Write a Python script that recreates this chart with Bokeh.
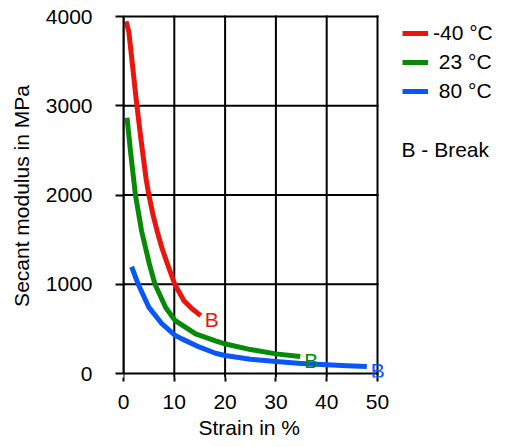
from bokeh.plotting import figure
from bokeh.models import Range1d, FixedTicker, Legend, LegendItem, Label, Title
from bokeh.embed import file_html
from bokeh.resources import INLINE

# ---- data ----
strain_m40 = [0.5, 1.05, 1.8, 2.5, 3.4, 4.45, 5.0, 5.8, 6.6, 7.6, 8.6, 10.1, 11.9, 13.5, 15.2]
modulus_m40 = [3945, 3830, 3440, 3070, 2640, 2180, 2000, 1780, 1600, 1400, 1235, 1000, 815, 725, 648]

strain_23 = [0.7, 1.4, 2.35, 3.55, 5.1, 6.2, 8.3, 10.2, 14.2, 18.1, 20.1, 25.0, 30.0, 34.8]
modulus_23 = [2865, 2480, 2000, 1600, 1225, 1000, 740, 592, 443, 366, 330, 268, 220, 190]

strain_80 = [1.6, 2.9, 5.0, 7.6, 10.2, 11.5, 15.0, 18.1, 20.0, 25.0, 30.0, 35.0, 40.0, 44.0, 47.9]
modulus_80 = [1196, 1000, 741, 555, 425, 388, 295, 227, 202, 160, 134, 113, 97, 87, 78]

series_labels = ["-40 °C", "\u200823 °C", "\u200880 °C"]
series_colors = ["#e8160e", "#078a07", "#0b57f5"]

x_ticks = [0, 10, 20, 30, 40, 50]
y_ticks = [0, 1000, 2000, 3000, 4000]
x_title = "Strain in %"
y_title = "Secant modulus in MPa"
break_mark = "B"
break_note = "B - Break"

FONT = "Liberation Sans"
FS = "21px"

x_lo, x_hi = x_ticks[0], x_ticks[-1]
y_lo, y_hi = y_ticks[0], y_ticks[-1]

# frame extends past the data box so that legend and break labels are not clipped;
# axes and grid are bounded to the data box (0..50, 0..4000)
y_px = 357.0 / (y_hi - y_lo)
p = figure(width=505, height=447, output_backend="svg", toolbar_location=None,
           x_range=Range1d(x_lo, x_hi * 382 / 254),
           y_range=Range1d(y_lo - 4 / y_px, y_hi + 2 / y_px),
           min_border_left=123, min_border_right=0, min_border_top=14, min_border_bottom=70)
p.background_fill_color = "white"
p.border_fill_color = "white"
p.outline_line_color = None
p.xgrid.visible = False
p.ygrid.visible = False

for ax, ticks in ((p.xaxis, x_ticks), (p.yaxis, y_ticks)):
    ax.ticker = FixedTicker(ticks=ticks)
    ax.bounds = (ticks[0], ticks[-1])
    ax.major_tick_in = 0
    ax.minor_tick_out = 0
    ax.minor_tick_in = 0
    ax.major_tick_line_color = "black"
    ax.major_tick_line_width = 2
    ax.axis_line_color = "black"
    ax.axis_line_width = 2
    ax.major_label_text_font = FONT
    ax.major_label_text_font_size = FS
    ax.major_label_text_color = "black"
    ax.axis_label_text_font = FONT
    ax.axis_label_text_font_size = FS
    ax.axis_label_text_font_style = "normal"
    ax.axis_label_text_color = "black"

p.xaxis.major_tick_out = 4
p.xaxis.axis_line_color = None
p.xaxis.major_label_standoff = 13
p.yaxis.major_tick_out = 8
p.yaxis.axis_label = y_title
p.yaxis.major_label_standoff = 23
p.yaxis.axis_label_standoff = 10
p.yaxis.major_label_orientation = "horizontal"

p.add_layout(Title(text=x_title, align="left", offset=75, standoff=8, vertical_align="top",
                   text_font=FONT, text_font_size=FS, text_font_style="normal",
                   text_color="black"), "below")

# grid lines from the tick lists
p.segment(x0=x_ticks, x1=x_ticks, y0=[p.y_range.start] * len(x_ticks), y1=[y_hi] * len(x_ticks),
          line_color="black", line_width=2, line_cap="square")
p.segment(x0=[x_lo] * len(y_ticks), x1=[x_hi] * len(y_ticks), y0=y_ticks, y1=y_ticks,
          line_color="black", line_width=2, line_cap="square")

series = [(strain_m40, modulus_m40), (strain_23, modulus_23), (strain_80, modulus_80)]
items = []
for (xs, ys), lab, col in zip(series, series_labels, series_colors):
    r = p.line(xs, ys, line_color=col, line_width=5, line_cap="butt", line_join="round")
    items.append(LegendItem(label=lab, renderers=[r]))
    p.add_layout(Label(x=xs[-1], y=ys[-1], text=break_mark, x_offset=4, y_offset=-4,
                       text_baseline="middle", text_align="left", text_color=col,
                       text_font=FONT, text_font_size=FS))

legend = Legend(items=items, location=(279, 274), padding=0, margin=0, spacing=5,
                glyph_width=26, glyph_height=24, label_height=24, label_standoff=5,
                label_text_font=FONT, label_text_font_size=FS, label_text_color="black",
                border_line_color=None, background_fill_alpha=0)
p.add_layout(legend)

p.add_layout(Label(x=278, y=228, x_units="screen", y_units="screen", text=break_note,
                   text_baseline="alphabetic", text_align="left", text_color="black",
                   text_font=FONT, text_font_size=FS))

open("out.html", "w").write(file_html(p, INLINE))
